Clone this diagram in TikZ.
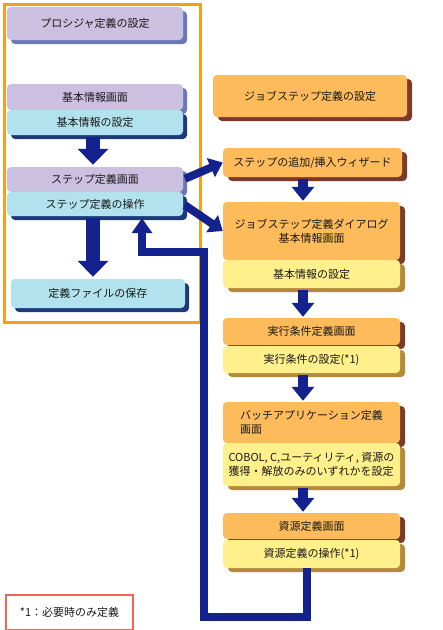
\documentclass[tikz,border=0pt]{standalone}
\usepackage{fontspec}
\setmainfont{Noto Sans CJK JP}
\usetikzlibrary{arrows.meta,shadows}
\definecolor{lav}{HTML}{CBC0DF}
\definecolor{lavsh}{HTML}{6B78B6}
\definecolor{cy}{HTML}{B2E2EE}
\definecolor{cysh}{HTML}{1C3B7E}
\definecolor{org}{HTML}{FDBB5B}
\definecolor{orgsh}{HTML}{7C3A2A}
\definecolor{yel}{HTML}{FFF08C}
\definecolor{yelsh}{HTML}{B3893A}
\definecolor{navy}{HTML}{13228C}
\definecolor{framec}{HTML}{F99D1C}
\definecolor{notec}{HTML}{EE6655}
\tikzset{
  box/.style={rounded corners=4pt, inner sep=2pt, font=\fontsize{11}{14}\selectfont, align=center, text=black!90},
  pbox/.style={box, fill=lav, drop shadow={shadow xshift=4pt, shadow yshift=-4pt, fill=lavsh, opacity=1}},
  cbox/.style={box, fill=cy, drop shadow={shadow xshift=4pt, shadow yshift=-4pt, fill=cysh, opacity=1}},
  obox/.style={box, fill=org, drop shadow={shadow xshift=5pt, shadow yshift=-4pt, fill=orgsh, opacity=1}},
  ybox/.style={box, fill=yel, drop shadow={shadow xshift=5pt, shadow yshift=-4pt, fill=yelsh, opacity=1}},
  bigarrow/.style={draw=navy, line width=14pt, -{Triangle[width=30pt,length=16pt]}, shorten <=2pt, shorten >=2pt},
  midarrow/.style={draw=navy, line width=10pt, -{Triangle[width=22pt,length=14pt]}, shorten <=2pt, shorten >=1pt},
  diagarrow/.style={draw=navy, line width=8pt, -{Triangle[width=20pt,length=13pt]}, shorten <=2pt},
  loopline/.style={draw=navy, line width=8pt, -{Triangle[width=20pt,length=15pt]}, shorten >=2pt}
}
\begin{document}
\begin{tikzpicture}[x=1pt,y=-1pt]
\useasboundingbox (0,0) rectangle (443,630);
% frame
\draw[framec, line width=3pt] (4,4) rectangle (200,322);
% left column
\node[pbox, minimum width=176pt, minimum height=33pt] (proc) at (95,23.5) {プロシジャ定義の設定};
\node[pbox, minimum width=176pt, minimum height=26pt] (infoscr) at (95,97) {基本情報画面};
\node[cbox, minimum width=176pt, minimum height=25pt] (infoset) at (95,122.5) {基本情報の設定};
\node[pbox, minimum width=176pt, minimum height=25pt] (stepscr) at (95,179.5) {ステップ定義画面};
\node[cbox, minimum width=176pt, minimum height=24pt] (stepop) at (95,204) {ステップ定義の操作};
\node[cbox, minimum width=174pt, minimum height=29pt] (save) at (98,293.5) {定義ファイルの保存};
% right column
\node[obox, minimum width=194pt, minimum height=42pt] (jobset) at (310,96) {ジョブステップ定義の設定};
\node[obox, minimum width=179pt, minimum height=29pt] (wizard) at (312.5,162.5) {ステップの追加/挿入ウィザード};
\node[obox, minimum width=177pt, minimum height=58pt] (dialog) at (311.5,231) {ジョブステップ定義ダイアログ\\基本情報画面};
\node[ybox, minimum width=177pt, minimum height=28pt] (infoset2) at (311.5,274) {基本情報の設定};
\node[obox, minimum width=177pt, minimum height=27pt] (execscr) at (311.5,331.5) {実行条件定義画面};
\node[ybox, minimum width=177pt, minimum height=27pt] (execset) at (311.5,359.5) {実行条件の設定(*1)};
\node[obox, minimum width=177pt, minimum height=41pt, align=left] (batch) at (311.5,422.5) {バッチアプリケーション定義\\画面};
\node[ybox, minimum width=177pt, minimum height=43pt, align=left] (cobol) at (311.5,464.5) {COBOL, C,ユーティリティ, 資源の\\獲得・解放のみのいずれかを設定};
\node[obox, minimum width=177pt, minimum height=26pt] (resscr) at (311.5,526) {資源定義画面};
\node[ybox, minimum width=177pt, minimum height=28pt] (resset) at (311.5,554) {資源定義の操作(*1)};
% note
\node[draw=notec, line width=2pt, minimum width=127pt, minimum height=35pt, inner sep=0pt, font=\fontsize{11}{14}\selectfont, text=black!90, anchor=north west] (note) at (5,594) {*1：必要時のみ定義};
% arrows left
\draw[bigarrow] ([xshift=-2pt]infoset.south) -- ([xshift=-2pt]stepscr.north);
\draw[bigarrow] ([xshift=-2pt]stepop.south) -- ([xshift=-5pt]save.north);
% arrows right
\draw[midarrow] ([xshift=-9.5pt]wizard.south) -- ([xshift=-8.5pt]dialog.north);
\draw[midarrow] ([xshift=-8.5pt]infoset2.south) -- ([xshift=-8.5pt]execscr.north);
\draw[midarrow] ([xshift=-8.5pt]execset.south) -- ([xshift=-8.5pt]batch.north);
\draw[midarrow] ([xshift=-8.5pt]cobol.south) -- ([xshift=-8.5pt]resscr.north);
% diagonal arrows
\draw[diagarrow] (stepscr.east) -- (wizard.west);
\draw[diagarrow] (stepop.east) -- (dialog.west);
% loop back
\coordinate (c1) at (204,617);
\coordinate (c2) at (204,252);
\coordinate (c3) at (142,252);
\draw[loopline] ([xshift=-5pt]resset.south) |- (c1) -- (c2) -- (c3) -- (c3 |- stepop.south);
\end{tikzpicture}
\end{document}
